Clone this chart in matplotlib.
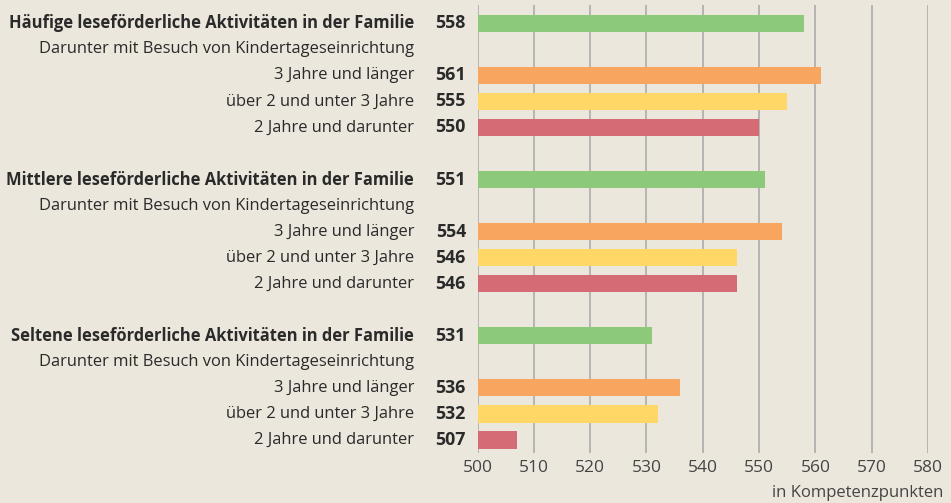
import matplotlib
matplotlib.use("Agg")
import matplotlib.pyplot as plt
from matplotlib.transforms import blended_transform_factory

labels = [
    "Häufige leseförderliche Aktivitäten in der Familie",
    "Darunter mit Besuch von Kindertageseinrichtung",
    "3 Jahre und länger",
    "über 2 und unter 3 Jahre",
    "2 Jahre und darunter",
    "",
    "Mittlere leseförderliche Aktivitäten in der Familie",
    "Darunter mit Besuch von Kindertageseinrichtung",
    "3 Jahre und länger",
    "über 2 und unter 3 Jahre",
    "2 Jahre und darunter",
    "",
    "Seltene leseförderliche Aktivitäten in der Familie",
    "Darunter mit Besuch von Kindertageseinrichtung",
    "3 Jahre und länger",
    "über 2 und unter 3 Jahre",
    "2 Jahre und darunter",
]
values = [558, None, 561, 555, 550, None,
          551, None, 554, 546, 546, None,
          531, None, 536, 532, 507]
kinds = ["total", "sub", "long", "mid", "short", "",
         "total", "sub", "long", "mid", "short", "",
         "total", "sub", "long", "mid", "short"]
ticks = [500, 510, 520, 530, 540, 550, 560, 570, 580]

colors = {"total": "#8cc97b", "long": "#f7a55f", "mid": "#ffd767", "short": "#d56b74"}
bg = "#ece7dd"
txt = "#2a2a2a"

plt.rcParams['font.family'] = ['Open Sans', 'DejaVu Sans']

W, H = 951, 503
fig = plt.figure(figsize=(W/100, H/100), dpi=100, facecolor=bg)
ax = fig.add_axes([477.5/W, 1-453/H, (928-477.5)/W, (453-5)/H], facecolor=bg)

for i, (v, k) in enumerate(zip(values, kinds)):
    if v is None:
        continue
    ax.barh(i, v - 499.7, left=499.7, height=0.66, color=colors[k], zorder=2)

ax.set_xlim(500, 580)
ax.set_ylim(16.5, -0.7)
ax.set_xticks(ticks)
ax.set_xticklabels([str(t) for t in ticks], fontsize=12.5, color="#444444")
ax.tick_params(axis='x', length=0, pad=5)
ax.set_yticks([])
ax.grid(axis='x', color="#acacac", linewidth=1.2, zorder=1)
for s in ax.spines.values():
    s.set_visible(False)

tr = blended_transform_factory(fig.transFigure, ax.transData)
for i, (lab, v, k) in enumerate(zip(labels, values, kinds)):
    if not lab:
        continue
    bold = k == "total"
    fig.text(414/W, i, lab, transform=tr, ha='right', va='center',
             fontsize=11.9, fontweight='bold' if bold else 'normal', color=txt)
    if v is not None:
        fig.text(466/W, i, str(v), transform=tr, ha='right', va='center',
                 fontsize=12.8, fontweight='bold', color=txt)

fig.text(943/W, 1-493/H, "in Kompetenzpunkten", ha='right', va='center',
         fontsize=12, color="#444444")

fig.savefig("out.png", dpi=100, facecolor=bg)
